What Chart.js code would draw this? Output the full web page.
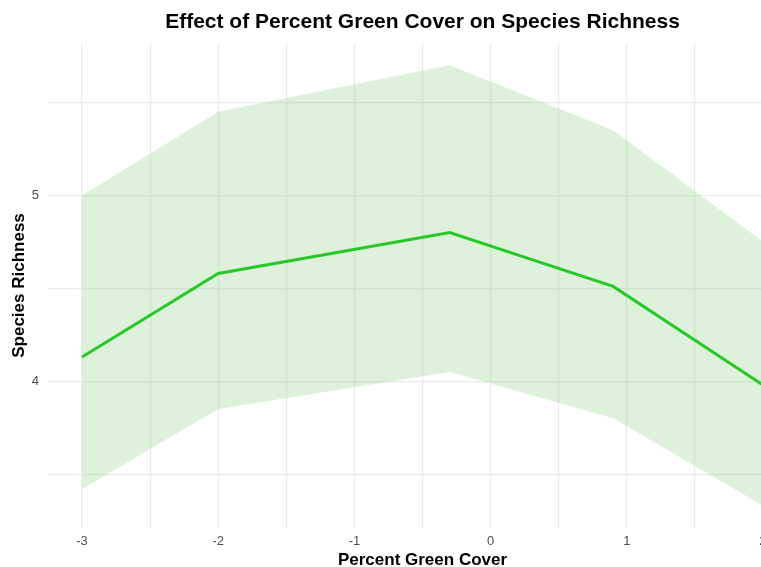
<!DOCTYPE html>
<html>
<head>
<meta charset="utf-8">
<script src="https://cdn.jsdelivr.net/npm/chart.js@4/dist/chart.umd.min.js"></script>
<style>
  html, body { margin: 0; padding: 0; background: #ffffff; }
  #frame { width: 761px; height: 567px; overflow: hidden; position: relative; }
  #plot { position: absolute; left: 0; top: 0; }
</style>
</head>
<body>
<div id="frame"><canvas id="plot" width="805" height="567"></canvas></div>
<script>
// Percent green cover (standardised) and fitted species richness with its confidence band
const coverValues    = [-3, -2, -0.3, 0.9, 2];
const richnessFit    = [4.13, 4.58, 4.80, 4.51, 3.98];
const richnessUpper  = [5.00, 5.45, 5.70, 5.35, 4.75];
const richnessLower  = [3.42, 3.85, 4.05, 3.80, 3.33];

// Grid positions (major + minor) and the ones that carry labels
const xGridValues  = [-3, -2.5, -2, -1.5, -1, -0.5, 0, 0.5, 1, 1.5, 2];
const xLabelValues = [-3, -2, -1, 0, 1, 2];
const yGridValues  = [3.5, 4, 4.5, 5, 5.5];
const yLabelValues = [4, 5];

const toPoints = ys => coverValues.map((x, i) => ({ x: x, y: ys[i] }));

const gridColor = '#ebebeb';
const tickColor = '#4d4d4d';
const fontFamily = '"Liberation Sans", Arial, Helvetica, sans-serif';

new Chart(document.getElementById('plot'), {
  type: 'line',
  data: {
    datasets: [
      {
        label: 'Species Richness',
        data: toPoints(richnessFit),
        borderColor: '#29c829',
        borderWidth: 3,
        pointRadius: 0,
        tension: 0,
        fill: false
      },
      {
        label: 'Upper',
        data: toPoints(richnessUpper),
        borderWidth: 0,
        borderColor: 'rgba(0,0,0,0)',
        pointRadius: 0,
        tension: 0,
        backgroundColor: 'rgba(120, 200, 110, 0.25)',
        fill: { target: 2 }
      },
      {
        label: 'Lower',
        data: toPoints(richnessLower),
        borderWidth: 0,
        borderColor: 'rgba(0,0,0,0)',
        pointRadius: 0,
        tension: 0,
        fill: false
      }
    ]
  },
  options: {
    responsive: false,
    animation: false,
    devicePixelRatio: 1,
    layout: { padding: { left: 0, right: 8, top: 0, bottom: 0 } },
    plugins: {
      legend: { display: false },
      tooltip: { enabled: false },
      title: {
        display: true,
        fullSize: false,
        text: 'Effect of Percent Green Cover on Species Richness',
        color: '#000000',
        font: { family: fontFamily, size: 21, weight: 'bold', lineHeight: 1.2 },
        padding: { top: 9.4, bottom: 8.4 }
      }
    },
    scales: {
      x: {
        type: 'linear',
        min: -3.25,
        max: 2.25,
        afterBuildTicks: s => { s.ticks = xGridValues.map(v => ({ value: v })); },
        afterFit: s => { s.height = 39; },
        border: { display: false },
        grid: { color: gridColor, lineWidth: 1.2, drawTicks: false },
        ticks: {
          autoSkip: false,
          maxRotation: 0,
          padding: 6,
          color: tickColor,
          font: { family: fontFamily, size: 13 },
          callback: v => xLabelValues.includes(v) ? String(v) : ''
        },
        title: {
          display: true,
          text: 'Percent Green Cover',
          color: '#000000',
          font: { family: fontFamily, size: 17, weight: 'bold', lineHeight: 0.8 },
          padding: { top: 0, bottom: 0 }
        }
      },
      y: {
        type: 'linear',
        min: 3.21,
        max: 5.82,
        afterBuildTicks: s => { s.ticks = yGridValues.map(v => ({ value: v })); },
        afterFit: s => { s.width = 48; },
        border: { display: false },
        grid: { color: gridColor, lineWidth: 1.2, drawTicks: false },
        ticks: {
          autoSkip: false,
          padding: 9,
          color: tickColor,
          font: { family: fontFamily, size: 13 },
          callback: v => yLabelValues.includes(v) ? String(v) : ''
        },
        title: {
          display: true,
          text: 'Species Richness',
          color: '#000000',
          font: { family: fontFamily, size: 17, weight: 'bold', lineHeight: 1.2 },
          padding: { top: 9, bottom: 0 }
        }
      }
    }
  }
});
</script>
</body>
</html>
